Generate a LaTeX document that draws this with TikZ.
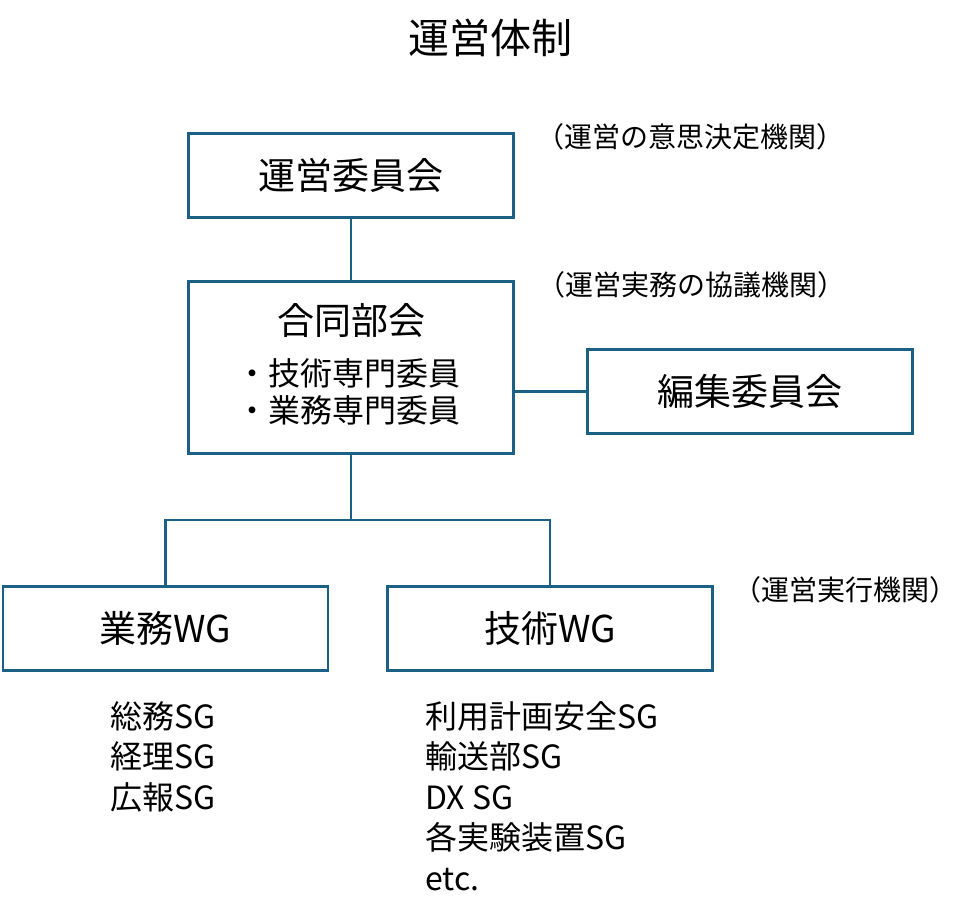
\documentclass[tikz,border=0pt]{standalone}
\usepackage{fontspec}
\setmainfont{Noto Sans CJK JP}
\usetikzlibrary{positioning}
\definecolor{boxblue}{HTML}{1B6185}

\begin{document}
\begin{tikzpicture}[x=1pt,y=-1pt]
\tikzstyle{every node}=[font=\fontsize{32}{40}\selectfont, inner sep=0pt]
\tikzstyle{unit}=[draw=boxblue, line width=2.7pt, minimum width=325pt,
  minimum height=84pt, font=\fontsize{37}{44}\selectfont]
\tikzstyle{link}=[draw=boxblue, line width=2.7pt]
\tikzstyle{remark}=[font=\fontsize{28}{34}\selectfont]

\newcommand{\gap}{40.5}

\useasboundingbox (0,0) rectangle (980,918);

\path (490,38) node[font=\fontsize{41}{48}\selectfont] (title) {運営体制};

% boxes
\path (351,175.5) node[unit] (unei){運営委員会};
\path (351,367.5) node[unit, minimum height=172pt] (goudou){};
\path (750,391.5) node[unit] (henshu){編集委員会};
\path (165.5,628.5) node[unit] (gyomu){業務WG};
\path (550,628.5) node[unit] (gijutsu){技術WG};

\path (goudou.north) ++(0,40) node[font=\fontsize{37}{44}\selectfont] (goudou_t){合同部会};
\path (236,385) node[anchor=base west] (goudou_1){・技術専門委員};
\path (236,422) node[anchor=base west] (goudou_2){・業務専門委員};

% remarks
\path (690,137) node[remark] (r_unei){（運営の意思決定機関）};
\path (691,285) node[remark] (r_goudou){（運営実務の協議機関）};
\path (845,590) node[remark] (r_wg){（運営実行機関）};

% connectors
\path (351,520) coordinate (fork);
\draw[link] (unei) -- (goudou);
\draw[link] (goudou.east |- henshu.west) -- (henshu.west);
\draw[link] (goudou.south) -- (fork);
\draw[link] (gyomu.north) |- (fork) -| (gijutsu.north);

% sub groups
\foreach \sg [count=\i] in {総務SG,経理SG,広報SG}{
    \path (110,728+\gap*\i-\gap) node[anchor=base west] (gyomu_sg\i){\sg};
}
\foreach \sg [count=\i] in {利用計画安全SG,輸送部SG,DX SG,各実験装置SG,etc.}{
    \path (425,728+\gap*\i-\gap) node[anchor=base west] (gijutsu_sg\i){\sg};
}
\end{tikzpicture}
\end{document}
